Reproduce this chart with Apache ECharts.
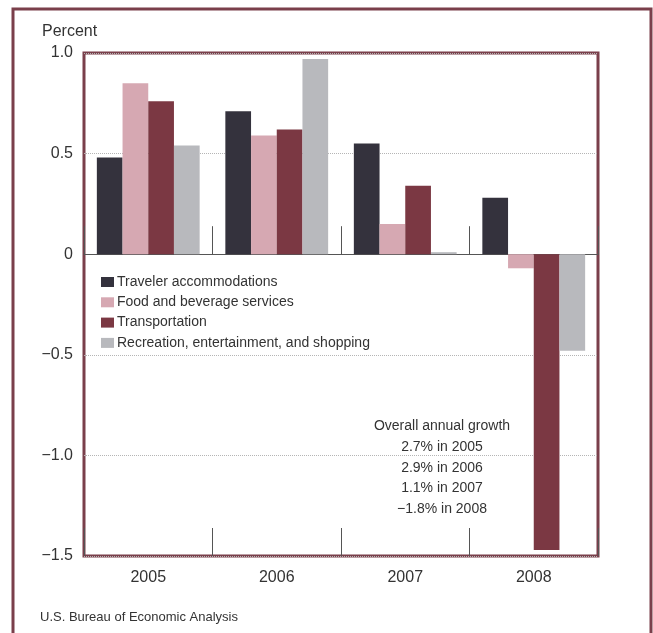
<!DOCTYPE html>
<html><head><meta charset="utf-8">
<script src="https://cdn.jsdelivr.net/npm/echarts@6/dist/echarts.min.js"></script>
<style>html,body{margin:0;padding:0;background:#fff}#c{width:653px;height:633px}</style>
</head><body><div id="c"></div>
<script>
const categories = ['2005', '2006', '2007', '2008'];
const traveler = [0.48, 0.71, 0.55, 0.28];
const food = [0.85, 0.59, 0.15, -0.07];
const transport = [0.76, 0.62, 0.34, -1.47];
const recreation = [0.54, 0.97, 0.01, -0.48];
const seriesNames = ['Traveler accommodations', 'Food and beverage services', 'Transportation', 'Recreation, entertainment, and shopping'];
const growthNote = ['Overall annual growth', '2.7% in 2005', '2.9% in 2006', '1.1% in 2007', '\u22121.8% in 2008'];

const colors = ['#34323d', '#d6a8b2', '#7b3843', '#b8b9bd'];
const frame = '#7a3f4b';
const font = 'Liberation Sans, Arial, sans-serif';
const chart = echarts.init(document.getElementById('c'), null, {renderer: 'canvas'});
const datasets = [traveler, food, transport, recreation];
chart.setOption({
  animation: false,
  backgroundColor: '#ffffff',
  textStyle: {fontFamily: font},
  color: colors,
  grid: {left: 84, top: 53, right: 55, bottom: 77, show: true, borderColor: frame, borderWidth: 3, backgroundColor: 'transparent'},
  legend: {
    orient: 'vertical', left: 96, top: 270, itemWidth: 13, itemHeight: 10, itemGap: 6.3,
    icon: 'rect', data: seriesNames,
    textStyle: {fontFamily: font, fontSize: 14, color: '#333', padding: [0, 0, 0, -2]}
  },
  xAxis: [{
    type: 'category', data: categories, position: 'bottom',
    axisLine: {show: false, onZero: false},
    axisTick: {show: true, inside: true, length: 28, lineStyle: {color: '#555', width: 1}},
    axisLabel: {fontFamily: font, fontSize: 16, color: '#333', margin: 14},
    splitLine: {show: false}
  }, {
    type: 'category', data: categories, position: 'bottom',
    axisLine: {show: true, onZero: true, lineStyle: {color: '#555', width: 1}},
    axisTick: {show: true, inside: true, length: 28, lineStyle: {color: '#555', width: 1}},
    axisLabel: {show: false},
    splitLine: {show: false}
  }],
  yAxis: {
    type: 'value', min: -1.5, max: 1.0, interval: 0.5,
    axisLine: {show: false}, axisTick: {show: false},
    axisLabel: {
      fontFamily: font, fontSize: 16, color: '#333', margin: 11,
      formatter: v => v === 0 ? '0' : (v < 0 ? '\u2212' + Math.abs(v).toFixed(1) : v.toFixed(1))
    },
    splitLine: {show: true, lineStyle: {color: '#b5b5b5', type: 'dotted', width: 1}}
  },
  series: datasets.map((d, i) => ({
    name: seriesNames[i], type: 'bar', xAxisIndex: 0, data: d,
    barGap: '0%', barCategoryGap: '20%',
    itemStyle: {color: colors[i]}
  })),
  graphic: [
    {type: 'rect', shape: {x: 13, y: 9, width: 638, height: 640}, style: {fill: 'none', stroke: frame, lineWidth: 3}, z: 100},
    {type: 'text', left: 42, top: 24, style: {text: 'Percent', font: '16px ' + font, fill: '#333'}},
    {type: 'text', left: 40, top: 611, style: {text: 'U.S. Bureau of Economic Analysis', font: '13px ' + font, fill: '#333'}},
    {type: 'text', x: 442, y: 416, style: {text: growthNote.join('\n'), font: '14px ' + font, fill: '#333', align: 'center', lineHeight: 20.7}}
  ]
});
</script></body></html>
